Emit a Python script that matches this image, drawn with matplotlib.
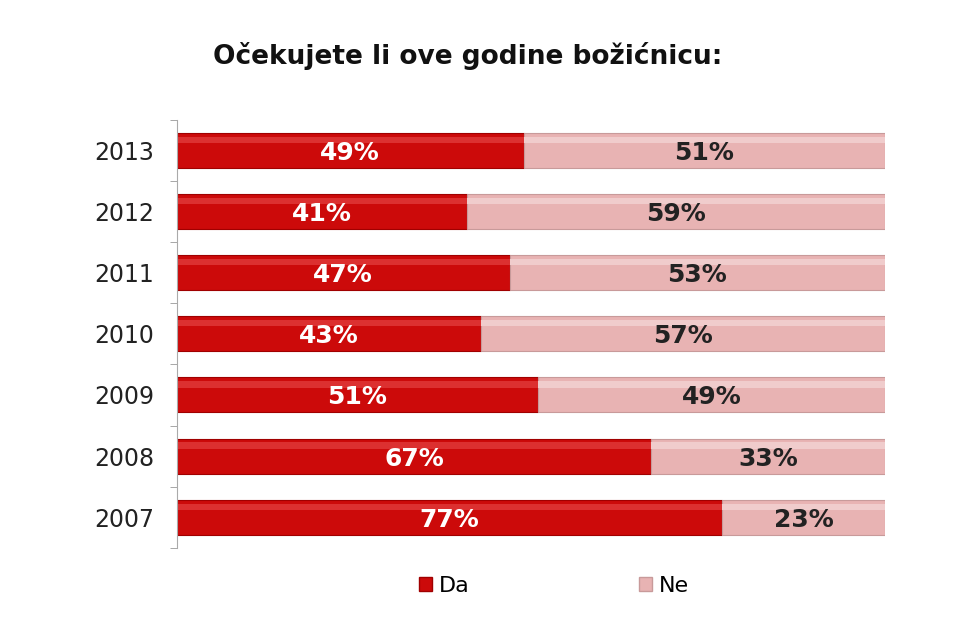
import numpy as np
import matplotlib
matplotlib.use('Agg')
from matplotlib import pyplot as plt
from matplotlib.patches import Patch

years = ['2007', '2008', '2009', '2010', '2011', '2012', '2013']
da = [77, 67, 51, 43, 47, 41, 49]
ne = [23, 33, 49, 57, 53, 59, 51]

red = '#cc0a0a'
pink = '#e8b3b3'

fig = plt.figure(figsize=(9.6, 6.4), dpi=100, facecolor='white')
ax = fig.add_axes([0.184, 0.144, 0.738, 0.669])

y = np.arange(len(years))
h = 0.57
ax.barh(y, da, height=h, color=red, edgecolor='#a00000', linewidth=0.8)
ax.barh(y, ne, left=da, height=h, color=pink, edgecolor='#c89a9a', linewidth=0.8)
# light sheen on top of bars
ax.barh(y + h * 0.30, da, height=h * 0.18, color='#dc3030', linewidth=0)
ax.barh(y + h * 0.30, ne, left=da, height=h * 0.18, color='#f0cccc', linewidth=0)

for i in range(len(years)):
    ax.text(da[i] / 2, y[i], f'{da[i]}%', ha='center', va='center_baseline',
            color='white', fontsize=18, fontweight='bold')
    ax.text(da[i] + ne[i] / 2, y[i], f'{ne[i]}%', ha='center', va='center_baseline',
            color='#222222', fontsize=18, fontweight='bold')

ax.set_xlim(0, 100)
ax.set_ylim(-0.5, len(years) - 0.5)
ax.set_yticks(y)
ax.set_yticklabels(years, fontsize=17, color='#222222')
ax.set_yticks(np.arange(-0.5, len(years), 1), minor=True)
ax.tick_params(axis='y', which='major', length=0, pad=25 - 9)
ax.tick_params(axis='y', which='minor', length=5, color='#999999')
ax.set_xticks([])
for s in ['top', 'right', 'bottom']:
    ax.spines[s].set_visible(False)
ax.spines['left'].set_color('#aaaaaa')

fig.text(0.487, 0.913, 'Očekujete li ove godine božićnicu:', ha='center', va='center',
         fontsize=19, fontweight='bold', color='#111111')

handles = [Patch(facecolor=red, edgecolor='#a00000', label='Da'),
           Patch(facecolor=pink, edgecolor='#c89a9a', label='Ne')]
fig.legend(handles=handles, loc='center', bbox_to_anchor=(0.577, 0.085), ncol=2,
           frameon=False, fontsize=16, handlelength=0.6, handleheight=0.6,
           handletextpad=0.3, columnspacing=7.6)

fig.savefig('out.png', dpi=100, facecolor='white')
